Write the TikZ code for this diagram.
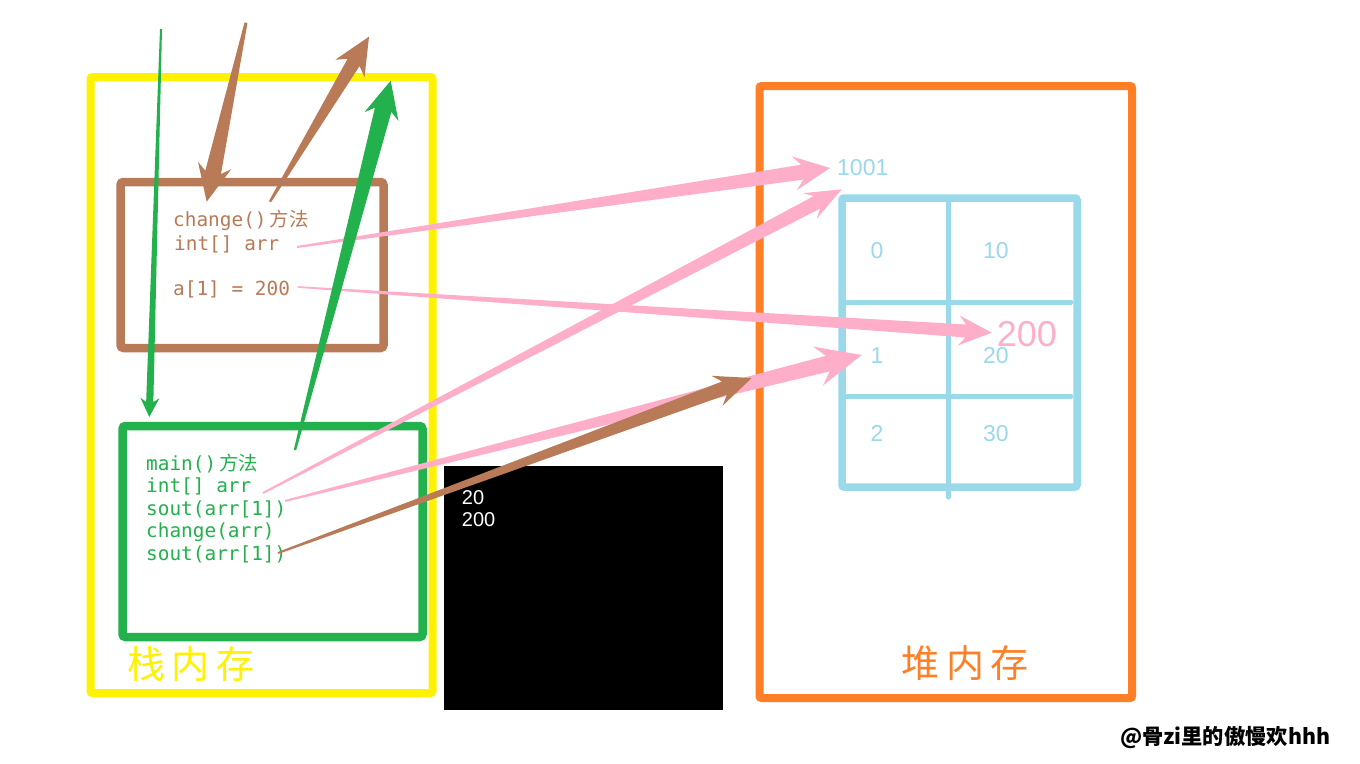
\documentclass[tikz,border=0pt]{standalone}
\usepackage{fontspec}
\usepackage{graphicx}
\usetikzlibrary{calc}
\newfontfamily\monof{DejaVu Sans Mono}
\newfontfamily\cjk{Noto Sans CJK SC}
\newfontfamily\sansf{Liberation Sans}
\definecolor{cyellow}{HTML}{FFF200}
\definecolor{cbrown}{HTML}{B97A57}
\definecolor{cgreen}{HTML}{22B14C}
\definecolor{corange}{HTML}{FF7F27}
\definecolor{cblue}{HTML}{99D9EA}
\definecolor{cpink}{HTML}{FFAEC9}
% tapered arrow: #1 colour, #2 from, #3 to, #4 tail half width, #5 shaft half width at head,
% #6 head length, #7 join distance, #8 head half width
\newcommand\taperarrow[8]{%
  \coordinate (tc) at ($(#3)!#6!(#2)$);
  \coordinate (td) at ($(#3)!#7!(#2)$);
  \fill[#1] ($(#2)!#4!90:(#3)$) -- ($(td)!#5!90:(#3)$) -- ($(tc)!#8!90:(#3)$) -- (#3)
    -- ($(tc)!#8!-90:(#3)$) -- ($(td)!#5!-90:(#3)$) -- ($(#2)!#4!-90:(#3)$) -- cycle;
}
\begin{document}
\begin{tikzpicture}[x=1pt,y=-1pt,
  boxs/.style={draw, inner sep=0pt, rounded corners=2pt},
  codeb/.style={anchor=base west, inner sep=0pt, text=cbrown, font=\monof\fontsize{19.4}{23}\selectfont},
  codeg/.style={anchor=base west, inner sep=0pt, text=cgreen, font=\monof\fontsize{19.4}{23}\selectfont},
  num/.style={anchor=base west, inner sep=0pt, text=cblue, font=\sansf\fontsize{23}{26}\selectfont},
  cons/.style={anchor=base west, inner sep=0pt, text=white, font=\sansf\fontsize{20}{24}\selectfont},
  gridline/.style={draw=cblue, line width=5pt, line cap=round},
  title/.style={inner sep=0pt, font=\cjk\fontsize{38}{42}\selectfont}
]
\useasboundingbox (0,0) rectangle (1360,763);
\fill[white] (0,0) rectangle (1360,763);

% boxes
\node[boxs, draw=cyellow, line width=8pt, minimum width=342pt, minimum height=616pt] (stack) at (261.5,385) {};
\node[boxs, draw=cbrown, line width=8.5pt, minimum width=263pt, minimum height=166pt, rounded corners=3pt] (changebox) at (252,265) {};
\node[boxs, draw=cgreen, line width=8.5pt, minimum width=300pt, minimum height=211pt, rounded corners=3pt] (mainbox) at (272.5,531.5) {};
\node[boxs, draw=corange, line width=8pt, minimum width=372.5pt, minimum height=612pt] (heap) at (945.75,392) {};
\node[fill=black, inner sep=0pt, minimum width=278.7pt, minimum height=244pt] (console) at (583.35,588) {};

% array table
\node[boxs, draw=cblue, line width=7.5pt, minimum width=235pt, minimum height=289pt] (table) at (959.5,342.5) {};
\coordinate (v1) at (948,198); \coordinate (v2) at (948,497);
\coordinate (h1a) at (842,302); \coordinate (h1b) at (1071,302);
\coordinate (h2a) at (842,396); \coordinate (h2b) at (1071,396);
\draw[gridline] (v1) -- (v2);
\draw[gridline] (h1a) -- (h1b);
\draw[gridline] (h2a) -- (h2b);

% texts: change()
\node[codeb] (c1) at (173,226.7) {change()\hspace{3pt}{\cjk 方法}};
\node[codeb] (c2) at (174,250) {int[] arr};
\node[codeb] (c3) at (173,295) {a[1] = 200};
% texts: main()
\node[codeg] (m1) at (146,470) {main()\hspace{3pt}{\cjk 方法}};
\node[codeg] (m2) at (146,492.7) {int[] arr};
\node[codeg] (m3) at (146,515) {sout(arr[1])};
\node[codeg] (m4) at (146,537) {change(arr)};
\node[codeg] (m5) at (146,560) {sout(arr[1])};

% console output
\node[cons] (o1) at (461.7,504) {20};
\node[cons] (o2) at (461.7,526.7) {200};

% heap texts
\node[num] (addr) at (837,175) {1001};
\node[num] (i0) at (870.5,258) {0};
\node[num] (v0) at (983,258) {10};
\node[num] (i1) at (870.5,363) {1};
\node[num] (vv1) at (983,363) {20};
\node[num] (i2) at (870.5,441.7) {2};
\node[num] (vv2) at (983,441.7) {30};

% titles
\node[title, text=cyellow] (stacklabel) at (191,664) {栈\hspace{7pt}内\hspace{7pt}存};
\node[title, text=corange] (heaplabel) at (965,663) {堆\hspace{7pt}内\hspace{7pt}存};

% arrow endpoints
\coordinate (pa1s) at (297,247);   \coordinate (pa1e) at (830,168);
\coordinate (pa2s) at (298,287);   \coordinate (pa2e) at (991.7,332.7);
\coordinate (pa3s) at (263,493);   \coordinate (pa3e) at (841.7,189.3);
\coordinate (pa4s) at (285,501);   \coordinate (pa4e) at (861.7,355);
\coordinate (ba1s) at (278,553);   \coordinate (ba1e) at (751.7,378);
\coordinate (gts) at (161,29);     \coordinate (gte) at (149.3,417);
\coordinate (bds) at (246,22.7);   \coordinate (bde) at (206.7,201.7);
\coordinate (bus) at (270,201.7);  \coordinate (bue) at (369,36.7);
\coordinate (gus) at (295,450);    \coordinate (gue) at (390.7,80.7);

% pink arrows
\taperarrow{cpink}{pa1s}{pa1e}{1pt}{7.5pt}{36pt}{28pt}{17pt}
\taperarrow{cpink}{pa2s}{pa2e}{0.8pt}{6.5pt}{33pt}{26pt}{15pt}
\taperarrow{cpink}{pa3s}{pa3e}{1pt}{7pt}{36pt}{28pt}{14.5pt}
\taperarrow{cpink}{pa4s}{pa4e}{1pt}{8pt}{45pt}{35pt}{20pt}
% brown arrow to heap
\taperarrow{cbrown}{ba1s}{ba1e}{1pt}{7pt}{37pt}{29pt}{16pt}
% arrows at the top
\taperarrow{cgreen}{gts}{gte}{1pt}{3.6pt}{19pt}{15pt}{9.5pt}
\taperarrow{cbrown}{bds}{bde}{1.5pt}{8pt}{37pt}{30pt}{17pt}
\taperarrow{cbrown}{bus}{bue}{1.2pt}{7pt}{37pt}{30pt}{17pt}
\taperarrow{cgreen}{gus}{gue}{1.2pt}{8.5pt}{37pt}{30pt}{17.5pt}

% value 200 in heap
\node[anchor=base west, inner sep=0pt, text=cpink, font=\sansf\fontsize{36}{40}\selectfont] (newval) at (996.7,346.7) {200};

% watermark
\node[inner sep=0pt] (mark) at (1225,738) {\resizebox{210pt}{!}{\cjk\bfseries\fontsize{18}{20}\selectfont @骨zi里的傲慢欢hhh}};
\end{tikzpicture}
\end{document}
